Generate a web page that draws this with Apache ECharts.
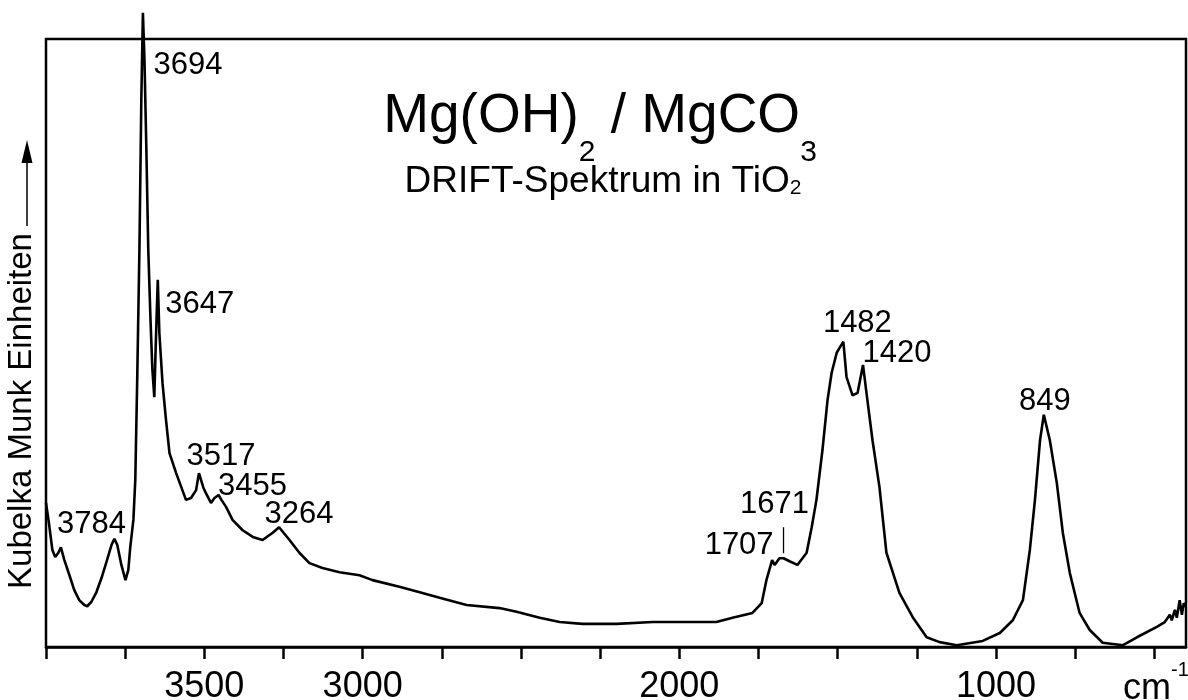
<!DOCTYPE html>
<html><head><meta charset="utf-8">
<script src="https://cdn.jsdelivr.net/npm/echarts@6/dist/echarts.min.js"></script>
<style>html,body{margin:0;padding:0;background:#fff}#c{width:1188px;height:700px}</style>
</head><body><div id="c"></div>
<script>
// Wavenumbers (cm^-1)
const wavenumbers = [4000,3990,3980,3971,3961,3953,3942,3926,3911,3895,
  3879,3870,3857,3841,3825,3809,3793,3784,3775,3762,
  3749,3744,3740,3734,3724,3718,3712,3705,3699,3694,
  3689,3683,3677,3670,3664,3658,3653,3647,3642,3632,
  3621,3610,3589,3558,3542,3526,3517,3503,3495,3479,
  3468,3455,3446,3431,3411,3379,3347,3316,3284,3264,
  3231,3200,3168,3127,3073,3010,2969,2884,2820,2757,
  2672,2568,2514,2441,2378,2306,2198,2084,1883,1832,
  1769,1740,1725,1707,1699,1684,1671,1652,1627,1598,
  1582,1567,1548,1532,1519,1503,1494,1482,1472,1453,
  1437,1420,1409,1390,1368,1346,1305,1263,1219,1178,
  1124,1042,988,947,915,893,877,861,849,830,
  808,789,767,736,704,663,599,555,492,467,
  451,445,435,429,420,413,407,400];
// Kubelka-Munk intensity (arbitrary units)
const kmValues = [23.7,20.1,16.0,14.8,15.5,16.4,14.3,11.8,9.4,7.7,
  6.9,6.7,7.4,9.0,11.3,14.0,16.8,17.8,16.8,13.5,
  11.0,10.9,12.7,16.4,20.9,27.5,43.9,65.3,90.0,104.3,
  96.5,81.7,65.3,53.8,45.6,41.1,50.5,60.4,51.6,43.4,
  37.3,31.9,28.6,24.2,24.5,25.8,28.6,26.2,25.3,23.7,
  24.5,25.0,24.2,23.0,20.9,19.2,18.1,17.6,18.8,19.7,
  17.6,15.5,13.8,13.0,12.3,11.8,11.0,9.9,9.0,8.1,
  6.9,6.4,5.8,4.8,4.1,3.8,3.8,4.1,4.1,4.8,
  5.6,7.2,11.0,14.3,13.5,14.6,14.6,14.1,13.5,15.5,
  19.7,24.2,32.4,40.6,45.1,48.4,49.2,50.2,44.4,41.4,
  41.8,46.4,41.8,34.0,26.3,15.5,8.9,4.9,1.6,0.8,
  0.3,1.0,2.3,4.4,7.7,16.0,24.2,34.0,38.2,34.0,
  27.0,18.8,12.2,5.6,2.8,0.7,0.3,1.6,3.3,4.1,
  5.3,4.4,6.1,4.8,7.7,5.3,7.2,6.6];
const xTickValues = [4000,3750,3500,3250,3000,2750,2500,2250,2000,1750,1500,1250,1000,750,500];
const xLabelValues = [3500,3000,2000,1000];
const peakLabels = [3694,3647,3784,3517,3455,3264,1707,1671,1482,1420,849];
const pointerPeaks = [1671];
const titleParts = [['Mg(OH)','m'],['2','s'],[' / MgCO','m'],['3','s']];
const subtitleParts = [['DRIFT-Spektrum in TiO','m'],['2','s']];
const yAxisTitle = 'Kubelka Munk Einheiten';
const xUnitParts = [['cm','m'],['-1','s']];

// styling: label offsets (px) relative to each peak
const labelOffsets = {3694:[45,53],3647:[42,25],3784:[-23,-14],3517:[22,-17],3455:[34,-9],
  3264:[20,-13],1707:[-33,-15],1671:[-9,-54],1482:[14,-18],1420:[34,-11],849:[1,-13]};

const FONT = '"Liberation Sans", Arial, sans-serif';
const kmAt = w => kmValues[wavenumbers.indexOf(w)];
const lineData = wavenumbers.map((w,i)=>[w,kmValues[i]]);

const mctx = document.createElement('canvas').getContext('2d');
function tw(t, fs){ mctx.font = fs + 'px ' + FONT; return mctx.measureText(t).width; }
function runAt(parts, x0, sizes, ys){
  let x = x0;
  return parts.map(([t,k])=>{
    const el = {type:'text',x:x,y:ys[k],z:10,style:{text:t,align:'left',verticalAlign:'middle',
      fontSize:sizes[k],fontFamily:FONT,fill:'#000'}};
    x += tw(t, sizes[k]);
    return el;
  });
}
function textRun(parts, cx, sizes, ys){
  const total = parts.reduce((a,[t,k])=>a+tw(t,sizes[k]),0);
  return runAt(parts, cx - total/2, sizes, ys);
}

const chart = echarts.init(document.getElementById('c'), null, {renderer:'canvas'});
chart.setOption({
  animation:false,
  backgroundColor:'#fff',
  grid:{left:46,right:2,top:39,bottom:53,show:true,borderColor:'#000',borderWidth:2.5,
    backgroundColor:'transparent',containLabel:false,outerBoundsMode:'none'},
  xAxis:{type:'value',inverse:true,min:400,max:4000,
    axisLine:{show:true,lineStyle:{color:'#000',width:2.5}},
    axisTick:{show:true,customValues:xTickValues,length:12,lineStyle:{color:'#000',width:2.5}},
    axisLabel:{show:true,customValues:xLabelValues,margin:22,fontSize:36,color:'#000',fontFamily:FONT,
      formatter:v=>String(v)},
    splitLine:{show:false}},
  yAxis:{type:'value',min:0,max:100,show:true,
    axisLine:{show:false},axisTick:{show:false},axisLabel:{show:false},splitLine:{show:false}},
  series:[
    {type:'line',data:lineData,showSymbol:false,clip:false,
     lineStyle:{color:'#000',width:2.6},z:3},
    {type:'scatter',clip:false,symbolSize:0,z:4,itemStyle:{opacity:1,color:'#000'},
     data:peakLabels.map(p=>({value:[p,kmAt(p)],label:{offset:labelOffsets[p]}})),
     label:{show:true,position:'inside',formatter:p=>String(p.value[0]),fontSize:31,color:'#000',
       opacity:1,fontFamily:FONT,textBorderWidth:0}},
    {type:'scatter',clip:false,symbol:'rect',symbolSize:[1.3,26],symbolOffset:[0,-18],z:4,
     itemStyle:{color:'#000',opacity:1},
     data:pointerPeaks.map(p=>[p,kmAt(p)])}
  ],
  graphic:[].concat(
    textRun(titleParts, 600, {m:55,s:30}, {m:117,s:153}),
    textRun(subtitleParts, 603, {m:37,s:21}, {m:182,s:188}),
    [
    {type:'text',x:22,y:411,rotation:Math.PI/2,z:10,style:{
      text:yAxisTitle,align:'center',verticalAlign:'middle',fontSize:33,fontFamily:FONT,fill:'#000'}},
    {type:'line',z:10,shape:{x1:27,y1:226,x2:27,y2:160},style:{stroke:'#000',lineWidth:1.5}},
    {type:'polygon',z:10,shape:{points:[[27,140],[21.5,163],[32.5,163]]},style:{fill:'#000'}}
    ],
    runAt(xUnitParts, 1123, {m:36,s:20}, {m:689,s:670})
  )
});
</script></body></html>
